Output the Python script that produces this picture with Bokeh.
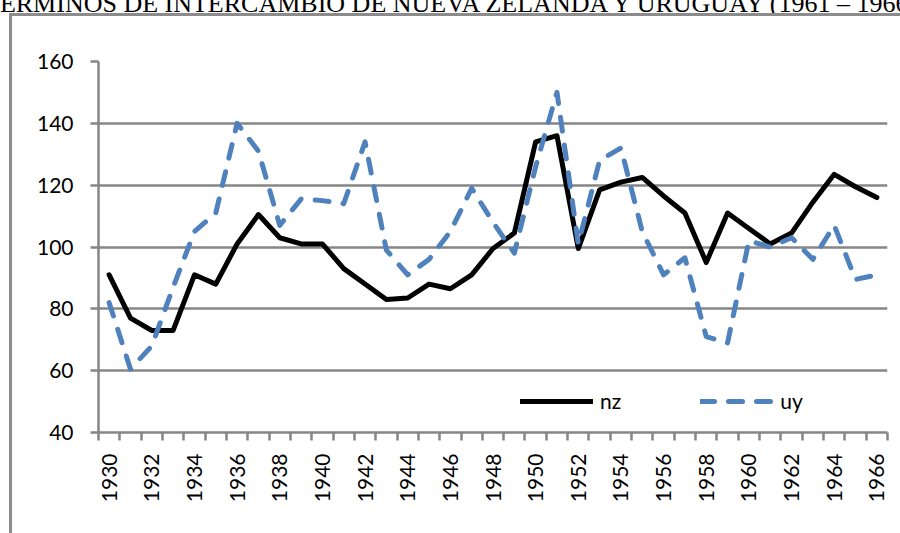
from bokeh.plotting import figure
from bokeh.models import Range1d, FixedTicker, Legend, Div
from bokeh.layouts import column
from bokeh.embed import file_html
from bokeh.resources import INLINE
import math

years = list(range(1930, 1967))
nz = [91, 77, 73, 73, 91, 88, 101, 110.5, 103, 101, 101, 93, 88, 83, 83.5, 88, 86.5, 91, 99.5, 104.5,
      134, 136, 99.5, 118.5, 121, 122.5, 116.5, 111, 95, 111, 106, 101, 104.5, 114.5, 123.5, 119.5, 116]
uy = [82, 60.5, 68, 87, 105, 111, 140, 131, 107, 115.5, 115, 114, 134, 99, 91, 96, 105, 119, 108, 98,
      126, 150, 101, 128, 132, 105, 91, 96.5, 71, 69, 102, 100, 103, 96, 107, 89.5, 91]
y_ticks = [40, 60, 80, 100, 120, 140, 160]
x_label_years = list(range(1930, 1967, 2))
title_text = "TÉRMINOS DE INTERCAMBIO DE NUEVA ZELANDA Y URUGUAY (1961 – 1966)"

FONT = "Lato"
GRID = "#868686"
EDGE = "#8c8c8c"

# title strip (cut off by the page edge, as in the source image)
title = Div(
    text=(f'<div style="font-family:\'Liberation Serif\';font-size:26px;line-height:26px;'
          f'white-space:nowrap;margin-left:-16px;margin-top:-12px;color:black;">{title_text}</div>'),
    width=900, height=13, styles={"overflow": "hidden", "margin": "0", "padding": "0"})

p = figure(width=900, height=520, output_backend="svg", toolbar_location=None,
           x_range=Range1d(years[0] - 0.5, years[-1] + 0.5),
           y_range=Range1d(y_ticks[0], y_ticks[-1]),
           min_border_left=98, min_border_right=13, min_border_top=48, min_border_bottom=101)
# chart-area edge (left and top), drawn behind the transparent canvas border
p.styles = {
    "background": (f"linear-gradient({EDGE},{EDGE}) 9px 0px / 3px 700px no-repeat, "
                   f"linear-gradient({EDGE},{EDGE}) 9px 0px / 1200px 3px no-repeat, white"),
}
p.outline_line_color = None
p.background_fill_color = "white"
p.border_fill_color = None

# axes
p.xaxis.ticker = FixedTicker(ticks=x_label_years,
                             minor_ticks=[y - 0.5 for y in years] + [years[-1] + 0.5])
p.xaxis.major_tick_out = 0
p.xaxis.major_tick_in = 0
p.xaxis.minor_tick_out = 8
p.xaxis.minor_tick_in = 0
p.xaxis.minor_tick_line_color = GRID
p.xaxis.minor_tick_line_width = 2.5
p.xaxis.axis_line_color = GRID
p.xaxis.axis_line_width = 2.5
p.xaxis.major_label_orientation = math.pi / 2
p.xaxis.major_label_standoff = 13
p.xaxis.formatter.use_scientific = False

p.yaxis.ticker = FixedTicker(ticks=y_ticks)
p.yaxis.major_tick_out = 8
p.yaxis.major_tick_in = 0
p.yaxis.minor_tick_out = 0
p.yaxis.minor_tick_in = 0
p.yaxis.major_tick_line_color = GRID
p.yaxis.major_tick_line_width = 2.5
p.yaxis.axis_line_color = GRID
p.yaxis.axis_line_width = 2.5
p.yaxis.major_label_standoff = 17

for ax in (p.xaxis, p.yaxis):
    ax.major_label_text_font = FONT
    ax.major_label_text_font_size = "21px"
    ax.major_label_text_color = "black"

p.xgrid.grid_line_color = None
p.ygrid.ticker = FixedTicker(ticks=y_ticks)
p.ygrid.grid_line_color = GRID
p.ygrid.grid_line_width = 2.5

# series
r1 = p.line(years, nz, line_color="black", line_width=5, line_join="round", line_cap="round")
r2 = p.line(years, uy, line_color="#4F81BD", line_width=5, line_dash="14 14",
            line_join="round", line_cap="round")

legend = Legend(items=[("nz", [r1]), ("uy", [r2])], location=(422, 19), orientation="horizontal",
                border_line_alpha=0, background_fill_alpha=0, padding=0, margin=0,
                glyph_width=73, glyph_height=20, label_standoff=7, spacing=79,
                label_text_font=FONT, label_text_font_size="21px", label_text_color="black")
p.add_layout(legend, "center")

layout = column(title, p, spacing=0)
open("out.html", "w").write(file_html(layout, INLINE))
